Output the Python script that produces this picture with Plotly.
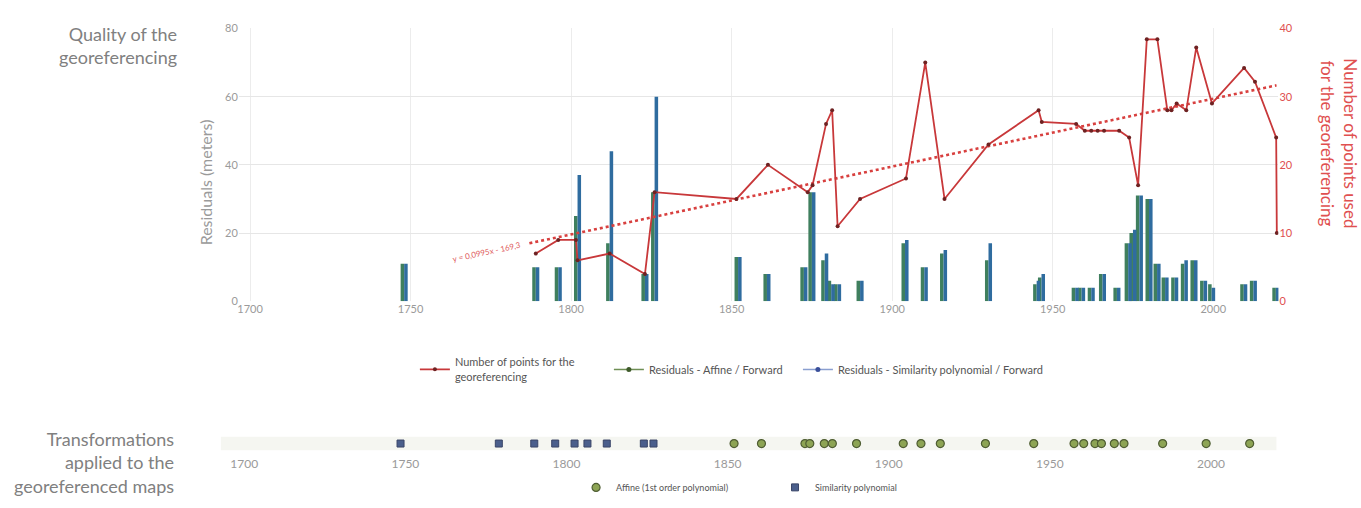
import plotly.graph_objects as go

W, H = 1361, 508

# Residuals of each georeferenced map (metres), per transformation
BAR_YEARS = [1748, 1789, 1796, 1802, 1812, 1823, 1826, 1852, 1861, 1872.5, 1875,
             1879, 1881, 1883, 1890, 1904, 1910, 1916, 1930, 1945, 1946.5,
             1957, 1959, 1962, 1965.5, 1970, 1973.5, 1975, 1977, 1980, 1982.5,
             1985, 1988, 1991, 1994, 1997, 1999.5, 2009.5, 2012.5, 2019.5]
RESID_AFFINE = [11, 10, 10, 25, 17, 8, 32, 13, 8, 10, 32,
                12, 6, 5, 6, 17, 10, 14, 12, 5, 7,
                4, 4, 4, 8, 4, 17, 20, 31, 30, 11,
                7, 7, 11, 12, 6, 5, 5, 6, 4]
RESID_SIMILARITY = [11, 10, 10, 37, 44, 8, 60, 13, 8, 10, 32,
                    14, 5, 5, 6, 18, 10, 15, 17, 6, 8,
                    4, 4, 4, 8, 4, 17, 21, 31, 30, 11,
                    7, 7, 12, 12, 6, 4, 5, 6, 4]

# Number of control points used for each map
POINT_YEARS = [1789, 1796, 1801.5, 1802, 1812, 1823, 1826, 1851.5, 1861.3, 1873.7,
               1875.2, 1879.4, 1881.3, 1883, 1890, 1904.3, 1910.3, 1916.3, 1930,
               1945.6, 1946.6, 1957.3, 1960, 1962, 1964, 1966, 1970.7, 1973.8,
               1976.6, 1979.3, 1982.6, 1985.7, 1987, 1988.6, 1991.6, 1994.7,
               1999.6, 2009.6, 2013, 2019.6, 2019.8]
POINT_COUNTS = [7, 9, 9, 6, 7, 4, 16, 15, 20, 16,
                17, 26, 28, 11, 15, 18, 35, 15, 23,
                28, 26.3, 26, 25, 25, 25, 25, 25, 24,
                17, 38.4, 38.4, 28, 28, 29, 28, 37.2,
                29, 34.2, 32.2, 24, 10]

# Linear trend of the number of points
TREND_SLOPE = 0.0995
TREND_INTERCEPT = -169.3
TREND_RANGE = [1787, 2019.7]
TREND_LABEL = "y = 0,0995x - 169,3"

# Transformation used for each map
SIMILARITY_MAP_YEARS = [1748.5, 1779, 1790, 1796.5, 1802.5, 1806.5, 1812.5, 1824, 1827]
AFFINE_MAP_YEARS = [1852, 1860.5, 1874, 1875.5, 1880, 1882.5, 1890, 1904.5, 1910,
                    1916, 1930, 1945, 1957.5, 1960.5, 1964, 1966, 1970, 1973,
                    1985, 1998.5, 2012]

X_TICKS = [1700, 1750, 1800, 1850, 1900, 1950, 2000]
LEFT_TICKS = [0, 20, 40, 60, 80]
RIGHT_TICKS = [0, 10, 20, 30, 40]

FONT = "Lato"
GREY = "#9a9a9a"
TITLE_GREY = "#808080"
RED = "#c8383a"
AFF_COL = "#3f7f5e"
SIM_COL = "#2f6c9f"


def px(x):
    return x / W


def py(y):
    return 1 - y / H


def legend_box(x, y, size):
    return dict(orientation="h", x=px(x), y=py(y), xanchor="left",
                yanchor="middle", font=dict(family=FONT, size=size, color="#555"),
                bgcolor="rgba(0,0,0,0)", itemwidth=30)


fig = go.Figure()

fig.add_trace(go.Bar(x=BAR_YEARS, y=RESID_AFFINE, width=1.1, offset=-1.1,
                     marker=dict(color=AFF_COL, line_width=0), showlegend=False,
                     xaxis="x", yaxis="y"))
fig.add_trace(go.Bar(x=BAR_YEARS, y=RESID_SIMILARITY, width=1.1, offset=0,
                     marker=dict(color=SIM_COL, line_width=0), showlegend=False,
                     xaxis="x", yaxis="y"))

trend_y = [TREND_SLOPE * v + TREND_INTERCEPT for v in TREND_RANGE]
fig.add_trace(go.Scatter(x=TREND_RANGE, y=trend_y, mode="lines",
                         line=dict(color="#d8403f", width=2.6, dash="dot"),
                         showlegend=False, xaxis="x", yaxis="y2"))

fig.add_trace(go.Scatter(x=POINT_YEARS, y=POINT_COUNTS, mode="lines+markers",
                         name="Number of points for the<br>georeferencing",
                         line=dict(color=RED, width=1.8),
                         marker=dict(color="#6e2222", size=4),
                         legend="legend", xaxis="x", yaxis="y2"))
fig.add_trace(go.Scatter(x=[None], y=[None], mode="lines+markers",
                         name="Residuals - Affine / Forward",
                         line=dict(color="#6f8f55", width=1.5),
                         marker=dict(color="#3e5a2a", size=5),
                         legend="legend3", xaxis="x", yaxis="y"))
fig.add_trace(go.Scatter(x=[None], y=[None], mode="lines+markers",
                         name="Residuals - Similarity polynomial / Forward",
                         line=dict(color="#8a9fd0", width=1.5),
                         marker=dict(color="#3a4f9a", size=5),
                         legend="legend4", xaxis="x", yaxis="y"))

fig.add_trace(go.Scatter(x=AFFINE_MAP_YEARS, y=[0] * len(AFFINE_MAP_YEARS),
                         mode="markers", name="Affine (1st order polynomial)",
                         marker=dict(symbol="circle", size=8, color="#8da454",
                                     line=dict(color="#4f5d33", width=1.2)),
                         legend="legend2", xaxis="x2", yaxis="y3"))
fig.add_trace(go.Scatter(x=SIMILARITY_MAP_YEARS, y=[0] * len(SIMILARITY_MAP_YEARS),
                         mode="markers", name="Similarity polynomial",
                         marker=dict(symbol="square", size=7, color="#4b5f8c",
                                     line=dict(color="#3a4668", width=1)),
                         legend="legend5", xaxis="x2", yaxis="y3"))

annotations = [
    dict(text="Quality of the<br>georeferencing", x=px(173), y=py(40), xref="paper",
         yref="paper", xanchor="right", yanchor="middle", align="right",
         showarrow=False, font=dict(family=FONT, size=18, color=TITLE_GREY)),
    dict(text="Residuals (meters)", x=px(199), y=py(180), xref="paper", yref="paper",
         textangle=-90, showarrow=False, xanchor="center", yanchor="middle",
         font=dict(family=FONT, size=16, color=GREY)),
    dict(text="Number of points used<br>for the georeferencing", x=px(1339), y=py(140),
         xref="paper", yref="paper", textangle=90, showarrow=False,
         xanchor="center", yanchor="middle",
         font=dict(family=FONT, size=17, color="#e05050")),
    dict(text=TREND_LABEL, x=1773.5, y=TREND_SLOPE * 1773.5 + TREND_INTERCEPT,
         xref="x", yref="y2", textangle=-12, showarrow=False,
         font=dict(family=FONT, size=8, color="#e06060")),
    dict(text="Transformations<br>applied to the<br>georeferenced maps",
         x=px(170), y=py(467), xref="paper", yref="paper", xanchor="right",
         yanchor="middle", align="right", showarrow=False,
         font=dict(family=FONT, size=18, color=TITLE_GREY)),
]

shapes = [
    dict(type="rect", xref="paper", yref="paper", x0=px(215), x1=px(1276),
         y0=py(455), y1=py(441), fillcolor="#f5f6f1", line_width=0, layer="below"),
]

fig.update_layout(
    width=W, height=H,
    margin=dict(l=0, r=0, t=0, b=0),
    paper_bgcolor="white", plot_bgcolor="white",
    barmode="overlay",
    font=dict(family=FONT, color=GREY),
    annotations=annotations,
    shapes=shapes,
    xaxis=dict(domain=[px(233), px(1278)], range=[1696.5, 2020.3],
               tickvals=X_TICKS, showgrid=True, gridcolor="#ececec", gridwidth=1,
               zeroline=False, showline=False, ticks="",
               tickfont=dict(family=FONT, size=11, color=GREY), anchor="y"),
    yaxis=dict(domain=[py(302), py(22)], range=[0, 80], tickvals=LEFT_TICKS,
               showgrid=True, gridcolor="#e6e6e6", zeroline=False, showline=False,
               ticks="", tickfont=dict(family=FONT, size=11, color=GREY), anchor="x"),
    yaxis2=dict(overlaying="y", side="right", range=[0, 40], tickvals=RIGHT_TICKS,
                showgrid=False, zeroline=False, showline=False, ticks="",
                tickfont=dict(family=FONT, size=11, color="#e05050"), anchor="x"),
    xaxis2=dict(domain=[px(232), px(1275)], range=[1698, 2020], tickvals=X_TICKS,
                showgrid=False, zeroline=False, showline=False, ticks="",
                ticklabelstandoff=4,
                tickfont=dict(family=FONT, size=12, color=GREY), anchor="y3"),
    yaxis3=dict(domain=[py(456), py(440)], range=[-1, 1], visible=False,
                anchor="x2"),
    legend=legend_box(410, 372, 11),
    legend3=legend_box(605, 372, 11),
    legend4=legend_box(795, 372, 11),
    legend2=legend_box(572, 493, 9),
    legend5=legend_box(772, 493, 9),
)

fig.write_html("out.html")
